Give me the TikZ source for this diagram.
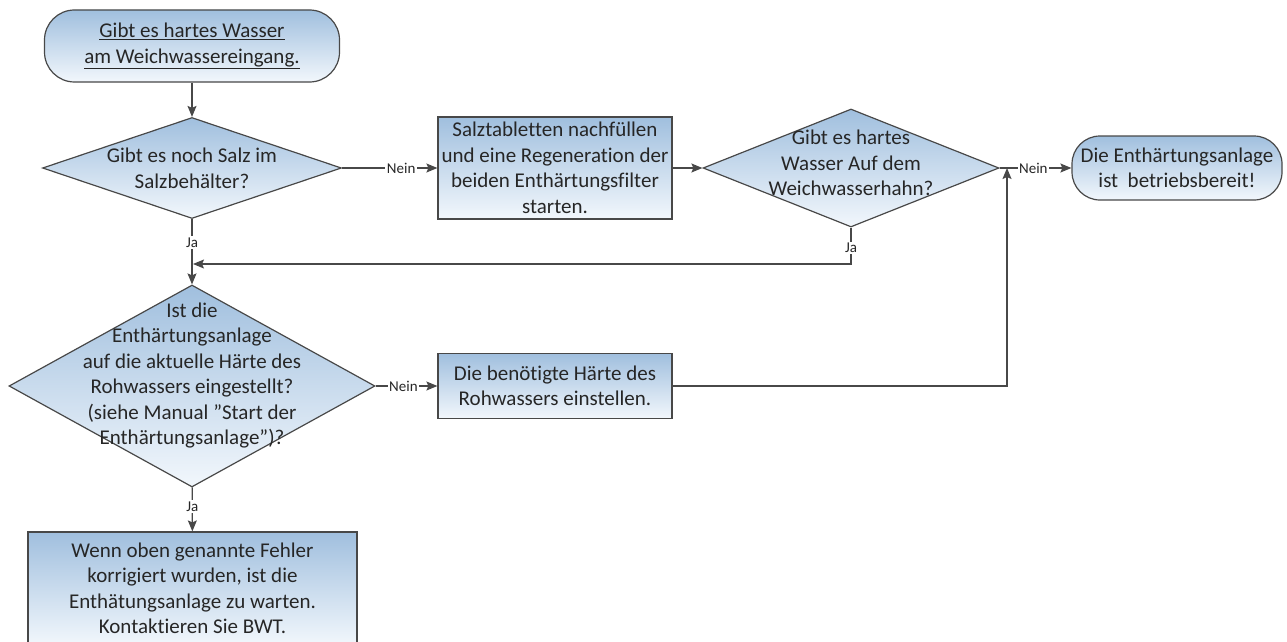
\documentclass[tikz,border=0pt]{standalone}
\usepackage{fontspec}
\setmainfont{Carlito}[Ligatures=NoCommon]
\usetikzlibrary{arrows.meta,positioning,shapes.geometric}
\definecolor{flowtop}{RGB}{160,191,222}
\definecolor{flowbot}{RGB}{242,247,252}
\definecolor{flowline}{RGB}{72,72,72}
\newcommand{\dtext}[2][0]{\raisebox{#1pt}{\makebox[0pt]{\smash{\begin{tabular}{@{}c@{}}#2\end{tabular}}}}}

\begin{document}
\begin{tikzpicture}[x=1pt,y=-1pt,
  base/.style={draw=flowline, line width=1.2pt, top color=flowtop, bottom color=flowbot,
    text=black!85, font=\fontsize{21}{25.5}\selectfont, inner sep=0pt},
  term/.style={base, rectangle, align=center},
  proc/.style={base, rectangle, align=center},
  decide/.style={base, diamond},
  arr/.style={draw=flowline, line width=1.3pt, -{Stealth[length=11pt,width=9pt,inset=2pt]}},
  lbl/.style={text=black!85, font=\fontsize{15}{17}\selectfont, fill=white, inner sep=1.5pt}]
\useasboundingbox (0,0) rectangle (1287,642);
\node[term, rounded corners=30pt, minimum width=295pt, minimum height=72pt] (start) at (192,46)
  {\underline{Gibt es hartes Wasser}\\\underline{am Weichwassereingang.}};
\node[decide, minimum width=299pt, minimum height=101pt] (salz) at (192,168)
  {\dtext[-15]{Gibt es noch Salz im\\Salzbehälter?}};
\node[proc, minimum width=234pt, minimum height=102pt] (nachfuellen) at (555,168)
  {Salztabletten nachfüllen\\und eine Regeneration der\\beiden Enthärtungsfilter\\starten.};
\node[decide, minimum width=296pt, minimum height=118pt] (hart) at (851,168)
  {\dtext[-5]{Gibt es hartes\\Wasser Auf dem\\Weichwasserhahn?}};
\node[term, rounded corners=28pt, minimum width=210pt, minimum height=64pt] (bereit) at (1177,168)
  {Die Enthärtungsanlage\\ist\ \ betriebsbereit!};
\node[decide, minimum width=366pt, minimum height=202pt] (haerte) at (192,386)
  {\dtext[10]{Ist die\\Enthärtungsanlage\\auf die aktuelle Härte des\\Rohwassers eingestellt?\\(siehe Manual ”Start der\\Enthärtungsanlage”)?}};
\node[proc, minimum width=234pt, minimum height=65pt] (einstellen) at (555,386)
  {Die benötigte Härte des\\Rohwassers einstellen.};
\node[proc, minimum width=329pt, minimum height=113pt] (wartung) at (192.5,588.5)
  {Wenn oben genannte Fehler\\korrigiert wurden, ist die\\Enthätungsanlage zu warten.\\Kontaktieren Sie BWT.};
\coordinate (merge) at (193,264);
\coordinate (join) at (1007,168);
% connectors
\draw[arr] (start) -- (salz);
\draw[arr] (salz) -- node[lbl, pos=0.62]{Nein} (nachfuellen);
\draw[arr] (nachfuellen) -- (hart);
\draw[arr] (hart) -- node[lbl, pos=0.47]{Nein} (bereit);
\draw[arr] (salz) -- node[lbl, pos=0.36]{Ja} (haerte);
\draw[arr] (hart.south) |- node[lbl, pos=0.28]{Ja} (merge);
\draw[arr] (haerte) -- node[lbl, pos=0.45]{Nein} (einstellen);
\draw[arr] (einstellen) -| (join);
\draw[arr] (haerte) -- node[lbl, pos=0.44]{Ja} (wartung);
\end{tikzpicture}
\end{document}
